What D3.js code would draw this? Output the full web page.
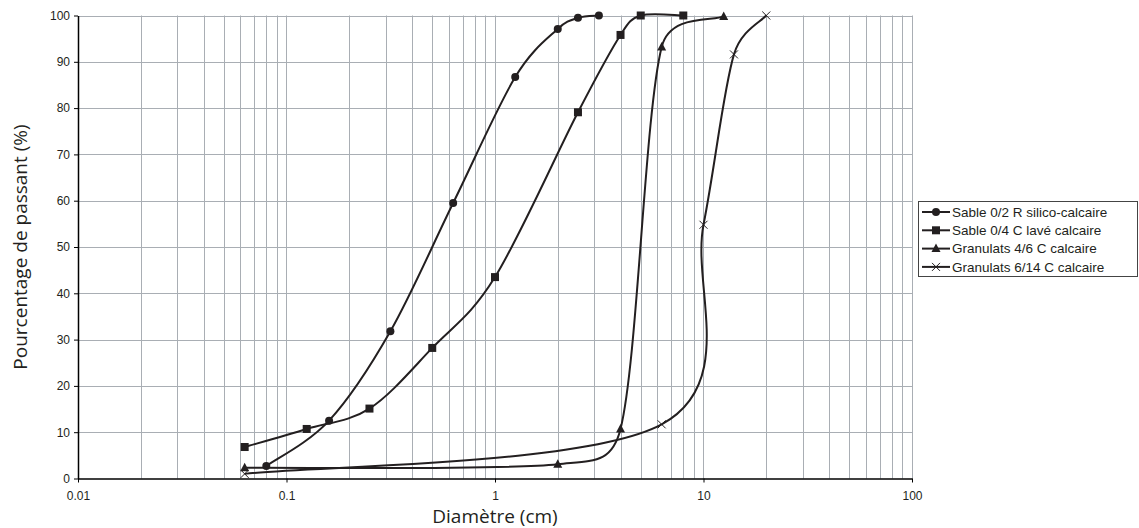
<!DOCTYPE html>
<html>
<head>
<meta charset="utf-8">
<script src="https://cdn.jsdelivr.net/npm/d3@7"></script>
<style>
  body { margin: 0; background: #fff; }
  svg { display: block; }
</style>
</head>
<body>
<svg id="chart" width="1139" height="528"></svg>
<script>
// particle size curves, diameter (cm) vs % passing
var seriesNames = [
  "Sable 0/2 R silico-calcaire",
  "Sable 0/4 C lavé calcaire",
  "Granulats 4/6 C calcaire",
  "Granulats 6/14 C calcaire"
];
var sable02 = [[0.08, 2.7], [0.16, 12.5], [0.315, 31.8], [0.63, 59.5], [1.25, 86.7], [2, 97.1], [2.5, 99.5], [3.15, 100]];
var sable04 = [[0.063, 6.8], [0.125, 10.7], [0.25, 15.1], [0.5, 28.2], [1, 43.5], [2.5, 79.1], [4, 95.8], [5, 100], [8, 100]];
var gran46 = [[0.063, 2.3], [2, 3.1], [4, 10.7], [6.3, 93.2], [12.5, 99.8]];
var gran614 = [[0.063, 1.0], [6.3, 11.7], [10, 54.8], [14, 91.6], [20, 100]];
var xTicks = [0.01, 0.1, 1, 10, 100];
var yTicks = [0, 10, 20, 30, 40, 50, 60, 70, 80, 90, 100];

var allSeries = [sable02, sable04, gran46, gran614];
var markers = ["circle", "square", "triangle", "cross"];

var svg = d3.select("#chart");
var ink = "#231f20";
var gridColor = "#a9aeb4";

var x = d3.scaleLog().domain([0.01, 100]).range([78, 912]);
var y = d3.scaleLinear().domain([0, 100]).range([478.5, 15.5]);

// grid
var minor = [];
for (var d = 0.01; d < 100; d *= 10) {
  for (var k = 1; k <= 9; k++) minor.push(+(d * k).toPrecision(3));
}
minor.push(100);

svg.append("g").selectAll("line").data(minor.filter(function(v) { return v > 0.01; }))
  .enter().append("line")
  .attr("x1", function(v) { return Math.round(x(v)) + 0.5; })
  .attr("x2", function(v) { return Math.round(x(v)) + 0.5; })
  .attr("y1", y(0)).attr("y2", y(100))
  .attr("stroke", gridColor).attr("stroke-width", 1);

svg.append("g").selectAll("line").data(yTicks.filter(function(v) { return v > 0; }))
  .enter().append("line")
  .attr("x1", x(0.01)).attr("x2", x(100))
  .attr("y1", function(v) { return Math.round(y(v)) + 0.5; })
  .attr("y2", function(v) { return Math.round(y(v)) + 0.5; })
  .attr("stroke", gridColor).attr("stroke-width", 1);

// axes
var xAxis = d3.axisBottom(x).tickValues(xTicks).tickSize(4).tickSizeOuter(0)
  .tickFormat(function(v) { return String(v); });
var yAxis = d3.axisLeft(y).tickValues(yTicks).tickSize(4).tickSizeOuter(0);

var gx = svg.append("g").attr("transform", "translate(0," + y(0) + ")").call(xAxis);
var gy = svg.append("g").attr("transform", "translate(" + x(0.01) + ",0)").call(yAxis);
[gx, gy].forEach(function(g) {
  g.select(".domain").attr("stroke", "#000").attr("stroke-width", 1.5);
  g.selectAll(".tick line").attr("stroke", "#000");
  g.selectAll("text").attr("fill", "#231f20")
    .style("font-family", "'Liberation Sans', Arial, sans-serif").style("font-size", "12px");
});
gx.selectAll("text").attr("dy", "1.2em");
gy.selectAll("text").attr("dx", "-1px");

svg.append("text")
  .attr("x", x(1)).attr("y", 523)
  .attr("text-anchor", "middle")
  .style("font-family", "'Open Sans', sans-serif").style("font-size", "19px")
  .attr("fill", ink)
  .text("Diamètre (cm)");

svg.append("text")
  .attr("transform", "translate(27," + (y(50)) + ") rotate(-90)")
  .attr("text-anchor", "middle")
  .style("font-family", "'Open Sans', sans-serif").style("font-size", "19px")
  .attr("fill", ink)
  .text("Pourcentage de passant (%)");

// smoothed line, excel style: 1/6 tangents, control arm capped at half the segment
function smoothPath(pts) {
  var p = pts.map(function(v) { return [x(v[0]), y(v[1])]; });
  var n = p.length, s = "M" + p[0][0] + "," + p[0][1];
  function tangent(i) {
    var a = p[Math.max(i - 1, 0)], b = p[Math.min(i + 1, n - 1)];
    return [(b[0] - a[0]) / 6, (b[1] - a[1]) / 6];
  }
  function cap(t, len) {
    var m = Math.hypot(t[0], t[1]);
    if (m > len / 2) return [t[0] * len / 2 / m, t[1] * len / 2 / m];
    return t;
  }
  for (var i = 0; i < n - 1; i++) {
    var len = Math.hypot(p[i + 1][0] - p[i][0], p[i + 1][1] - p[i][1]);
    var t1 = cap(tangent(i), len), t2 = cap(tangent(i + 1), len);
    s += "C" + (p[i][0] + t1[0]) + "," + (p[i][1] + t1[1]) + " " +
      (p[i + 1][0] - t2[0]) + "," + (p[i + 1][1] - t2[1]) + " " +
      p[i + 1][0] + "," + p[i + 1][1];
  }
  return s;
}

function drawMarker(g, type, cx, cy) {
  if (type === "circle") {
    g.append("circle").attr("cx", cx).attr("cy", cy).attr("r", 4).attr("fill", ink);
  } else if (type === "square") {
    g.append("rect").attr("x", cx - 4).attr("y", cy - 4).attr("width", 8).attr("height", 8).attr("fill", ink);
  } else if (type === "triangle") {
    g.append("path").attr("d", "M" + cx + "," + (cy - 5) + "L" + (cx + 4.5) + "," + (cy + 3.5) + "L" + (cx - 4.5) + "," + (cy + 3.5) + "Z")
      .attr("fill", ink);
  } else {
    g.append("path").attr("d", "M" + (cx - 4) + "," + (cy - 4) + "L" + (cx + 4) + "," + (cy + 4) +
      "M" + (cx + 4) + "," + (cy - 4) + "L" + (cx - 4) + "," + (cy + 4))
      .attr("stroke", ink).attr("stroke-width", 1).attr("fill", "none");
  }
}

allSeries.forEach(function(data, i) {
  var g = svg.append("g");
  g.append("path").attr("d", smoothPath(data))
    .attr("fill", "none").attr("stroke", ink).attr("stroke-width", 2);
  data.forEach(function(p) { drawMarker(g, markers[i], x(p[0]), y(p[1])); });
});

// legend
var lg = svg.append("g");
lg.append("rect").attr("x", 918.5).attr("y", 201.5).attr("width", 219).attr("height", 75)
  .attr("fill", "#fff").attr("stroke", "#444").attr("stroke-width", 1);
seriesNames.forEach(function(name, i) {
  var ly = 212 + i * 18.3;
  lg.append("line").attr("x1", 922).attr("x2", 950).attr("y1", ly).attr("y2", ly)
    .attr("stroke", ink).attr("stroke-width", 2);
  drawMarker(lg, markers[i], 936, ly);
  lg.append("text").attr("x", 952).attr("y", ly).attr("dy", "0.36em")
    .style("font-family", "'Liberation Sans', Arial, sans-serif").style("font-size", "13.5px")
    .attr("fill", ink).text(name);
});
</script>
</body>
</html>
